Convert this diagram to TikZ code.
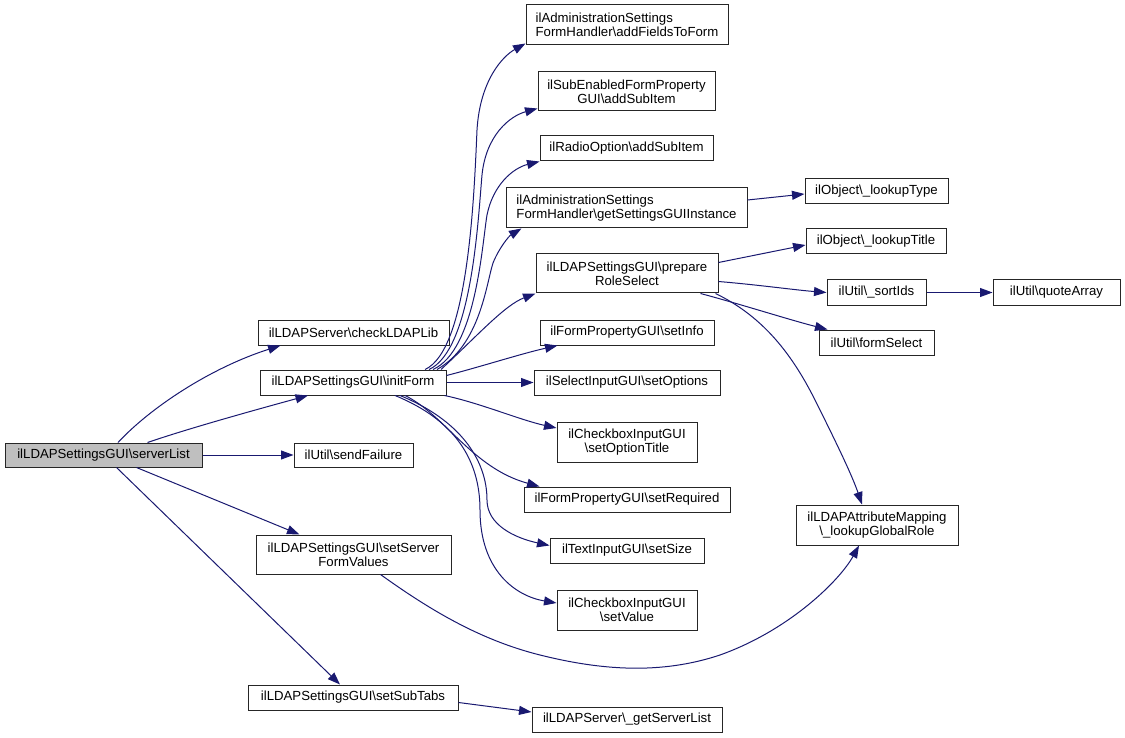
\documentclass[tikz,border=0pt]{standalone}
\usepackage{fontspec}
\setmainfont{Liberation Sans}
\usetikzlibrary{arrows.meta,calc}
\definecolor{edgeblue}{RGB}{25,25,112}
\newcommand{\bsl}{\textbackslash}
\begin{document}
\begin{tikzpicture}[x=1pt,y=-1pt,
  box/.style={draw=black!85, line width=1pt, fill=white, inner sep=0pt,
    font=\fontsize{13.2}{13.6}\selectfont, align=center},
  edge/.style={draw=edgeblue, line width=1pt, -{Triangle[length=12.5pt,width=9pt]}}]
\useasboundingbox (0,0) rectangle (1125,738);
% column 1
\node[box, fill=black!25, minimum width=197pt, minimum height=24pt] (serverList) at (103.5,455) {ilLDAPSettingsGUI\bsl serverList};
% column 2
\node[box, minimum width=191pt, minimum height=25pt] (check) at (353.5,332.5) {ilLDAPServer\bsl checkLDAPLib};
\node[box, minimum width=186pt, minimum height=25pt] (initForm) at (353,382.5) {ilLDAPSettingsGUI\bsl initForm};
\node[box, minimum width=119pt, minimum height=24pt] (sendFailure) at (353.5,455) {ilUtil\bsl sendFailure};
\node[box, minimum width=195pt, minimum height=39pt] (setServer) at (353.5,554.5) {ilLDAPSettingsGUI\bsl setServer\\FormValues};
\node[box, minimum width=210pt, minimum height=25pt] (setSubTabs) at (353,697.5) {ilLDAPSettingsGUI\bsl setSubTabs};
% column 3
\node[box, align=left, minimum width=202pt, minimum height=40pt] (addFields) at (627,25) {ilAdministrationSettings\\FormHandler\bsl addFieldsToForm};
\node[box, minimum width=177pt, minimum height=39pt] (subItem) at (626.5,91.5) {ilSubEnabledFormProperty\\GUI\bsl addSubItem};
\node[box, minimum width=173pt, minimum height=25pt] (radio) at (626.5,148.5) {ilRadioOption\bsl addSubItem};
\node[box, align=left, minimum width=241pt, minimum height=40pt] (getSettings) at (626.5,208) {ilAdministrationSettings\\FormHandler\bsl getSettingsGUIInstance};
\node[box, minimum width=182pt, minimum height=39pt] (prepare) at (627,273.5) {ilLDAPSettingsGUI\bsl prepare\\RoleSelect};
\node[box, minimum width=174pt, minimum height=25pt] (setInfo) at (627,332.5) {ilFormPropertyGUI\bsl setInfo};
\node[box, minimum width=186pt, minimum height=25pt] (setOptions) at (627,382.5) {ilSelectInputGUI\bsl setOptions};
\node[box, minimum width=140pt, minimum height=40pt] (setOptionTitle) at (627,442) {ilCheckboxInputGUI\\\bsl setOptionTitle};
\node[box, minimum width=206pt, minimum height=25pt] (setRequired) at (627,499.5) {ilFormPropertyGUI\bsl setRequired};
\node[box, minimum width=154pt, minimum height=25pt] (setSize) at (627,550.5) {ilTextInputGUI\bsl setSize};
\node[box, minimum width=140pt, minimum height=40pt] (setValue) at (627,610) {ilCheckboxInputGUI\\\bsl setValue};
\node[box, minimum width=190pt, minimum height=25pt] (getServerList) at (627,719.5) {ilLDAPServer\bsl\_getServerList};
% column 4
\node[box, minimum width=143pt, minimum height=25pt] (lookupType) at (876.5,191.5) {ilObject\bsl\_lookupType};
\node[box, minimum width=140pt, minimum height=25pt] (lookupTitle) at (876,241.5) {ilObject\bsl\_lookupTitle};
\node[box, minimum width=99pt, minimum height=25pt] (sortIds) at (876.5,292.5) {ilUtil\bsl\_sortIds};
\node[box, minimum width=115pt, minimum height=25pt] (formSelect) at (876.5,342.5) {ilUtil\bsl formSelect};
\node[box, minimum width=162pt, minimum height=40pt] (globalRole) at (877,525) {ilLDAPAttributeMapping\\\bsl\_lookupGlobalRole};
% column 5
\node[box, minimum width=127pt, minimum height=25pt] (quoteArray) at (1056.5,292.5) {ilUtil\bsl quoteArray};

% edges from serverList
\draw[edge] ($(serverList.north)+(14.5,0)$) .. controls (150,408) and (210,368) .. ($(check.south)+(-73,0)$);
\draw[edge] ($(serverList.north)+(44,0)$) .. controls (190,428) and (255,410) .. ($(initForm.south)+(-45,0)$);
\draw[edge] (serverList.east) -- (sendFailure.west);
\draw[edge] ($(serverList.south)+(33,0)$) -- ($(setServer.north)+(-54,0)$);
\draw[edge] ($(serverList.south)+(13,0)$) -- ($(setSubTabs.north)+(-13,0)$);

% edges from initForm
\draw[edge] ($(initForm.north)+(72,0)$) .. controls (468,350) and (474,200) .. (477,130)
  .. controls (480,80) and (503,56) .. ($(addFields.south west)+(0,-2)$);
\draw[edge] ($(initForm.north)+(76,0)$) .. controls (472,350) and (478,220) .. (482,175)
  .. controls (486,135) and (510,116) .. ($(subItem.south west)+(0,-3)$);
\draw[edge] ($(initForm.north)+(80,0)$) .. controls (476,350) and (482,245) .. (487,215)
  .. controls (493,185) and (513,168) .. (radio.south west);
\draw[edge] ($(initForm.north)+(84,0)$) .. controls (480,345) and (486,285) .. (493,263)
  .. controls (499,248) and (509,236) .. ($(getSettings.south west)+(16,0)$);
\draw[edge] ($(initForm.north)+(88,0)$) .. controls (478,335) and (505,305) .. (prepare.south west);
\draw[edge] ($(initForm.east)+(0,-7)$) .. controls (480,367) and (520,354) .. ($(setInfo.south west)+(18,0)$);
\draw[edge] (initForm.east) -- (setOptions.west);
\draw[edge] ($(initForm.south east)+(-2,0)$) .. controls (480,403) and (520,420) .. ($(setOptionTitle.west)+(0,-14)$);
\draw[edge] ($(initForm.south)+(52,0)$) .. controls (445,415) and (472,468) .. ($(setRequired.north west)+(16,0)$);
\draw[edge] ($(initForm.south)+(47,0)$) .. controls (460,420) and (487,460) .. (487,500)
  .. controls (487,525) and (515,538) .. ($(setSize.west)+(0,-5)$);
\draw[edge] ($(initForm.south)+(42,0)$) .. controls (455,420) and (480,460) .. (480,510)
  .. controls (480,570) and (515,596) .. ($(setValue.west)+(0,-7)$);

% second level
\draw[edge] ($(getSettings.east)+(0,-8)$) -- ($(lookupType.west)+(0,2.5)$);
\draw[edge] ($(prepare.east)+(0,-11)$) -- ($(lookupTitle.west)+(0,3.5)$);
\draw[edge] ($(prepare.east)+(0,8)$) .. controls (760,285) and (795,290) .. (sortIds.west);
\draw[edge] ($(prepare.south east)+(-18,0)$) .. controls (740,304) and (790,320) .. ($(formSelect.north west)+(9,0)$);
\draw[edge] ($(prepare.south east)+(-3,0)$) .. controls (760,315) and (790,350) .. (815,400)
  .. controls (835,440) and (852,475) .. ($(globalRole.north)+(-15,0)$);
\draw[edge] (sortIds.east) -- (quoteArray.west);
\draw[edge] ($(setServer.south)+(27,0)$) .. controls (430,610) and (480,640) .. (540,655)
  .. controls (600,670) and (660,675) .. (720,655)
  .. controls (790,630) and (840,580) .. ($(globalRole.south)+(-18,0)$);
\draw[edge] ($(setSubTabs.east)+(0,5)$) -- ($(getServerList.west)+(0,-7.5)$);
\end{tikzpicture}
\end{document}
